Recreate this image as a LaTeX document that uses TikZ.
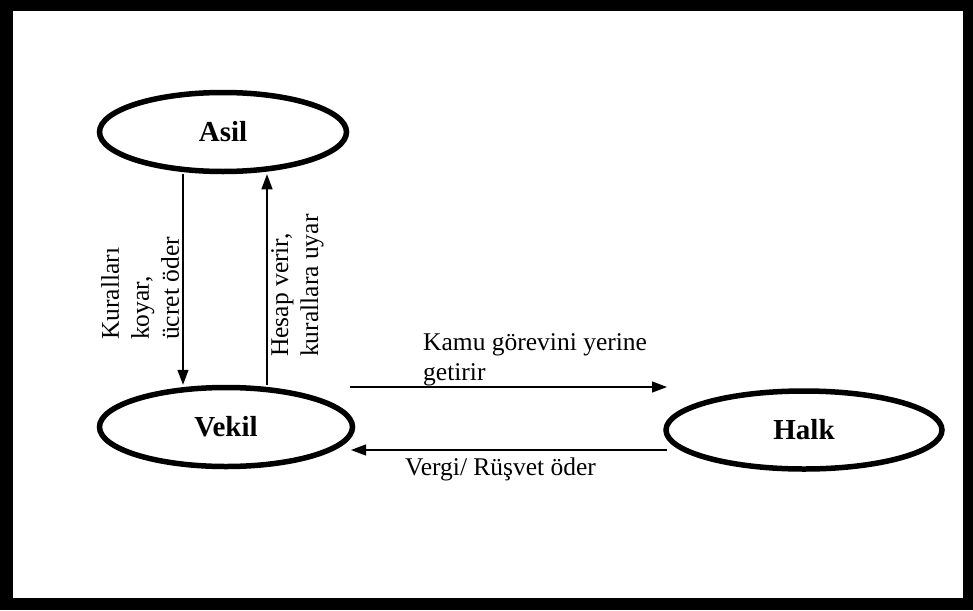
\documentclass[tikz,border=0pt]{standalone}
\usepackage{fontspec}
\setmainfont{Liberation Serif}
\usetikzlibrary{shapes.geometric,arrows.meta}
\begin{document}
\begin{tikzpicture}[x=1pt,y=-1pt,
  oval/.style={ellipse,draw,line width=5.5pt,inner sep=0pt,font=\fontsize{29}{32}\selectfont\bfseries},
  conn/.style={line width=1.3pt,-{Triangle[length=15pt,width=11pt]}},
  lbl/.style={font=\fontsize{25.5}{30}\selectfont,align=left,inner sep=0pt}]
\useasboundingbox (0,0) rectangle (973,610);
\fill[black] (0,0) rectangle (973,610);
\fill[white] (13,11) rectangle (963,598);
\node[oval,minimum width=247pt,minimum height=79pt] (asil) at (223,132) {Asil};
\node[oval,minimum width=253pt,minimum height=79pt] (vekil) at (226,427) {Vekil};
\node[oval,minimum width=276pt,minimum height=78pt] (halk) at (804,430) {Halk};
\draw[conn] ([xshift=-40pt]asil.south) -- ([xshift=-43pt]vekil.north);
\draw[conn] ([xshift=41pt]vekil.north) -- ([xshift=44pt]asil.south);
\coordinate (r1) at (350,387);
\coordinate (r2) at (667,387);
\coordinate (l1) at (667,450);
\coordinate (l2) at (351,450);
\draw[conn] (r1) -- (r2);
\draw[conn] (l1) -- (l2);
\node[lbl,anchor=south west] (t1) at (423,386) {Kamu görevini yerine\\getirir};
\node[lbl,anchor=west] (t2) at (405,469) {Vergi/ Rüşvet öder};
\node[lbl,rotate=90,anchor=north west] (t3) at (101,340) {Kuralları\\koyar,\\ücret öder};
\node[lbl,rotate=90,anchor=north west] (t4) at (271,357) {Hesap verir,\\kurallara uyar};
\end{tikzpicture}
\end{document}
